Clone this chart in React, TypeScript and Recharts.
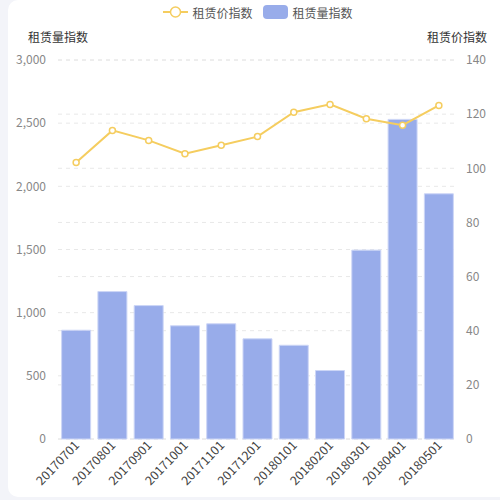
import React from 'react';
import {
  ComposedChart,
  Bar,
  Line,
  XAxis,
  YAxis,
  CartesianGrid,
  Legend,
} from 'recharts';

const months = [
  '20170701', '20170801', '20170901', '20171001', '20171101', '20171201',
  '20180101', '20180201', '20180301', '20180401', '20180501',
];
const volumeIndex = [861, 1167, 1056, 896, 912, 793, 742, 542, 1495, 2530, 1941];
const priceIndex = [102.1, 114.0, 110.3, 105.4, 108.5, 111.7, 120.7, 123.6, 118.3, 115.9, 123.2];
const volumeTicks = [0, 500, 1000, 1500, 2000, 2500, 3000];
const priceTicks = [0, 20, 40, 60, 80, 100, 120, 140];

const VOLUME_NAME = '租赁量指数';
const PRICE_NAME = '租赁价指数';

const data = months.map((m, i) => ({
  month: m,
  volume: volumeIndex[i],
  price: priceIndex[i],
}));

const FONT = '"Noto Sans CJK SC", "Noto Sans", sans-serif';
const BAR_COLOR = '#98acea';
const LINE_COLOR = '#f5cd5f';

const fmt = (v: number) => v.toLocaleString('en-US');

function XTick({ x, y, payload }: any) {
  return (
    <g transform={`translate(${x + 4},${y - 1})`}>
      <text
        x={0}
        y={0}
        textAnchor="end"
        transform="rotate(-46)"
        fill="#444"
        fontSize={12.5}
        fontFamily={FONT}
      >
        {payload.value}
      </text>
    </g>
  );
}

function AxisTitle({ viewBox, value, side }: any) {
  const x = side === 'left' ? viewBox.x + viewBox.width : viewBox.x;
  return (
    <text
      x={x}
      y={viewBox.y - 18}
      textAnchor="middle"
      fill="#333"
      fontSize={12}
      fontFamily={FONT}
    >
      {value}
    </text>
  );
}

function LegendBox() {
  return (
    <div
      style={{
        height: 20,
        display: 'flex',
        alignItems: 'center',
        justifyContent: 'center',
        paddingLeft: 16,
        fontFamily: FONT,
        fontSize: 12,
        color: '#555',
      }}
    >
      <svg width={25} height={14} style={{ marginRight: 4 }}>
        <line x1={0} y1={7} x2={25} y2={7} stroke={LINE_COLOR} strokeWidth={2} />
        <circle cx={12.5} cy={7} r={5} fill="#fff" stroke={LINE_COLOR} strokeWidth={1.5} />
      </svg>
      <span style={{ marginRight: 10 }}>{PRICE_NAME}</span>
      <svg width={25} height={14} style={{ marginRight: 5 }}>
        <rect x={0} y={0} width={25} height={14} rx={4} fill={BAR_COLOR} />
      </svg>
      <span>{VOLUME_NAME}</span>
    </div>
  );
}

export default function App() {
  return (
    <div
      style={{
        position: 'absolute',
        left: 0,
        top: 0,
        width: 500,
        height: 500,
        background: '#f3f4f9',
        overflow: 'hidden',
      }}
    >
      <div
        style={{
          position: 'absolute',
          left: 8,
          top: 0,
          width: 510,
          height: 497,
          borderRadius: 10,
          background: '#fff',
        }}
      />
      <div style={{ position: 'absolute', left: 0, top: 0 }}>
        <ComposedChart
          width={500}
          height={500}
          data={data}
          margin={{ top: 40, right: 0, left: 0, bottom: 0 }}
          barCategoryGap="10%"
        >
          <CartesianGrid
            yAxisId="left"
            vertical={false}
            stroke="#e8e8e8"
            strokeDasharray="4 4"
          />
          <CartesianGrid
            yAxisId="right"
            vertical={false}
            stroke="#e8e8e8"
            strokeDasharray="4 4"
          />
          <Legend
            verticalAlign="top"
            wrapperStyle={{ top: 2, left: 0, width: 500 }}
            content={() => <LegendBox />}
          />
          <XAxis
            dataKey="month"
            height={61}
            axisLine={false}
            tickLine={false}
            interval={0}
            tick={<XTick />}
          />
          <YAxis
            yAxisId="left"
            width={58}
            domain={[0, 3000]}
            ticks={volumeTicks}
            axisLine={false}
            tickLine={false}
            tickMargin={6}
            tickFormatter={fmt}
            tick={{ fill: '#888', fontSize: 12, fontFamily: FONT }}
            label={(props: any) => <AxisTitle {...props} value={VOLUME_NAME} side="left" />}
          />
          <YAxis
            yAxisId="right"
            orientation="right"
            width={43}
            domain={[0, 140]}
            ticks={priceTicks}
            axisLine={false}
            tickLine={false}
            tickMargin={3}
            tick={{ fill: '#888', fontSize: 12, fontFamily: FONT }}
            label={(props: any) => <AxisTitle {...props} value={PRICE_NAME} side="right" />}
          />
          <Bar
            yAxisId="left"
            dataKey="volume"
            name={VOLUME_NAME}
            fill={BAR_COLOR}
            stroke="#cdd6f6"
            strokeWidth={1}
            isAnimationActive={false}
          />
          <Line
            yAxisId="right"
            dataKey="price"
            name={PRICE_NAME}
            type="linear"
            stroke={LINE_COLOR}
            strokeWidth={2}
            dot={{ r: 3, fill: '#fff', stroke: LINE_COLOR, strokeWidth: 1.5 }}
            activeDot={false}
            isAnimationActive={false}
          />
        </ComposedChart>
      </div>
    </div>
  );
}
